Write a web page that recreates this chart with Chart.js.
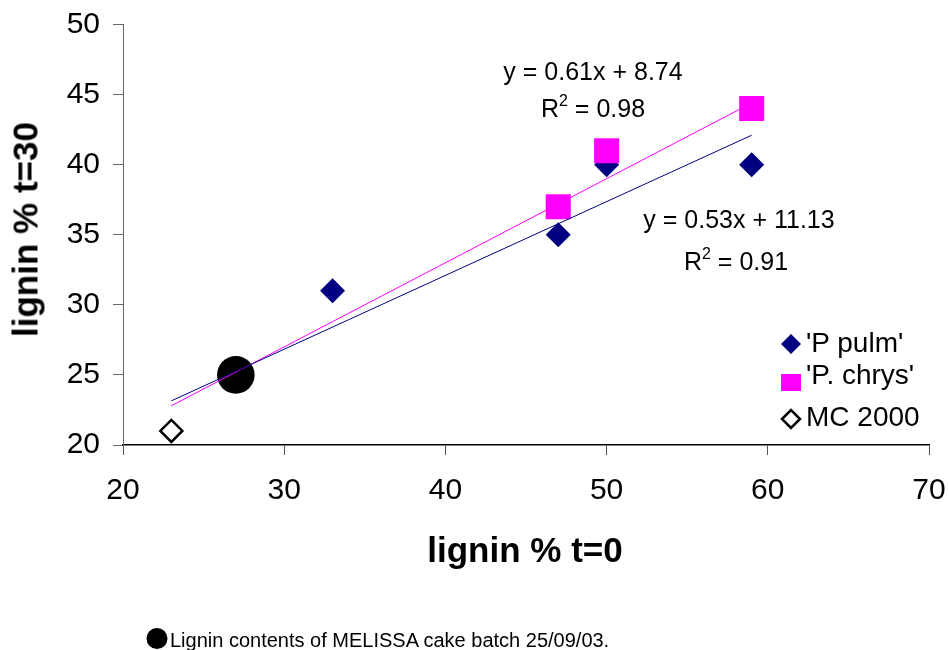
<!DOCTYPE html>
<html>
<head>
<meta charset="utf-8">
<script src="https://cdn.jsdelivr.net/npm/chart.js@4/dist/chart.umd.min.js"></script>
<style>
  html, body { margin: 0; padding: 0; background: #fff; }
  #wrap { position: relative; width: 949px; height: 650px; overflow: hidden; font-family: "Liberation Sans", Arial, sans-serif; color: #000; }
  #c { position: absolute; left: 0; top: 0; }
  .t { position: absolute; white-space: nowrap; }
  .ytitle { width: 300px; height: 35px; line-height: 35px; font-size: 35px; font-weight: bold; text-align: center; left: -125px; top: 212px; transform: rotate(-90deg); }
  .xtitle { width: 400px; line-height: 35px; font-size: 35px; font-weight: bold; text-align: center; left: 325px; top: 532px; }
  .ann { width: 300px; line-height: 25px; font-size: 25px; text-align: center; }
  .ann sup { font-size: 16px; vertical-align: 0; position: relative; top: -11px; }
  .leg { font-size: 28px; line-height: 28px; left: 806px; }
  .foot { font-size: 20px; line-height: 20px; left: 170px; top: 630px; }
</style>
</head>
<body>
<div id="wrap">
  <canvas id="c" width="949" height="650"></canvas>
  <div class="t ytitle">lignin % t=30</div>
  <div class="t xtitle">lignin % t=0</div>
  <div class="t ann" style="left:443px; top:59px;">y = 0.61x + 8.74</div>
  <div class="t ann" style="left:443px; top:96px;">R<sup>2</sup> = 0.98</div>
  <div class="t ann" style="left:589px; top:207px;">y = 0.53x + 11.13</div>
  <div class="t ann" style="left:586px; top:249px;">R<sup>2</sup> = 0.91</div>
  <svg class="t" style="left:0;top:0;" width="949" height="650">
    <polygon points="781,344 791,334 801,344 791,354" fill="#000080"/>
    <rect x="781" y="374" width="20" height="17" fill="#FF00FF"/>
    <polygon points="782,419 791,410 800,419 791,428" fill="#fff" stroke="#000" stroke-width="2.5"/>
    <circle cx="157" cy="638.5" r="10.5" fill="#000"/>
  </svg>
  <div class="t leg" style="top:329px;">'P pulm'</div>
  <div class="t leg" style="top:361px;">'P. chrys'</div>
  <div class="t leg" style="top:403px;">MC 2000</div>
  <div class="t foot">Lignin contents of MELISSA cake batch 25/09/03.</div>
</div>
<script>
// ---- data ----
const pPulmX = [33, 47, 50, 59];
const pPulmY = [31, 35, 40, 40];
const pChrysX = [47, 50, 59];
const pChrysY = [37, 41, 44];
const mc2000X = [23];
const mc2000Y = [21];
const melissaX = [27];
const melissaY = [25];
// trendline end points (as drawn in the reference)
const trendPulmX = [23, 59];
const trendPulmY = [23.15, 42.1];
const trendChrysX = [23, 59];
const trendChrysY = [22.8, 44.4];
// axis ticks
const xTicks = [20, 30, 40, 50, 60, 70];
const yTicks = [20, 25, 30, 35, 40, 45, 50];

const pts = (xs, ys) => xs.map((x, i) => ({ x: x, y: ys[i] }));

new Chart(document.getElementById('c'), {
  type: 'scatter',
  data: {
    datasets: [
      { label: 'trend pulm', data: pts(trendPulmX, trendPulmY), showLine: true, borderColor: '#000080', borderWidth: 1, pointRadius: 0, fill: false },
      { label: 'trend chrys', data: pts(trendChrysX, trendChrysY), showLine: true, borderColor: '#FF00FF', borderWidth: 1, pointRadius: 0, fill: false },
      { label: 'MC 2000', data: pts(mc2000X, mc2000Y), pointStyle: 'rectRot', pointRadius: 11, backgroundColor: '#fff', borderColor: '#000', borderWidth: 2.5 },
      { label: "'P. chrys'", data: pts(pChrysX, pChrysY), pointStyle: 'rect', pointRadius: 17.7, backgroundColor: '#FF00FF', borderWidth: 0 },
      { label: "'P pulm'", data: pts(pPulmX, pPulmY), pointStyle: 'rectRot', pointRadius: 12.5, backgroundColor: '#000080', borderWidth: 0 },
      { label: 'MELISSA', data: pts(melissaX, melissaY), pointStyle: 'circle', pointRadius: 18.8, backgroundColor: '#000', borderWidth: 0 }
    ]
  },
  options: {
    responsive: false,
    animation: false,
    events: [],
    layout: { padding: { top: 24.5, right: 20, left: 0, bottom: 0 } },
    plugins: { legend: { display: false }, tooltip: { enabled: false } },
    scales: {
      x: {
        type: 'linear', min: 20, max: 70,
        afterBuildTicks: s => { s.ticks = xTicks.map(v => ({ value: v })); },
        afterFit: s => { s.height = 205; s.paddingLeft = 0; s.paddingRight = 0; },
        grid: { drawOnChartArea: false, drawTicks: true, tickLength: 10, color: '#555', tickWidth: 1 },
        border: { color: '#000', width: 1.5 },
        ticks: { color: '#000', padding: 18, font: { family: 'Liberation Sans', size: 30 }, maxRotation: 0 }
      },
      y: {
        type: 'linear', min: 20, max: 50,
        afterBuildTicks: s => { s.ticks = yTicks.map(v => ({ value: v })); },
        afterFit: s => { s.width = 123; s.paddingTop = 0; s.paddingBottom = 0; },
        grid: { drawOnChartArea: false, drawTicks: true, tickLength: 10, color: '#666', tickWidth: 1 },
        border: { color: '#666', width: 1 },
        ticks: { color: '#000', padding: 13, font: { family: 'Liberation Sans', size: 30 } }
      }
    }
  }
});
</script>
</body>
</html>
